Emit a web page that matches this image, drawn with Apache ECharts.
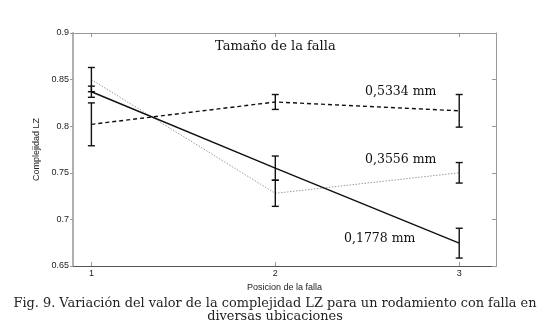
<!DOCTYPE html>
<html>
<head>
<meta charset="utf-8">
<script src="https://cdn.jsdelivr.net/npm/echarts@6/dist/echarts.min.js"></script>
<style>
    html, body { margin: 0; padding: 0; background: #fff; }
    #chart { width: 550px; height: 333px; }
</style>
</head>
<body>
<div id="chart"></div>
<script>
    // posiciones de la falla
    var positions = [1, 2, 3];
    var yTicks = [0.65, 0.7, 0.75, 0.8, 0.85, 0.9];

    // 0,5334 mm (discontinua)
    var lz5334 = [0.802, 0.826, 0.8165];
    var err5334 = [0.023, 0.008, 0.0175];
    // 0,3556 mm (punteada)
    var lz3556 = [0.850, 0.728, 0.750];
    var err3556 = [0.013, 0.014, 0.011];
    // 0,1778 mm (continua)
    var lz1778 = [0.837, 0.755, 0.6745];
    var err1778 = [0.006, 0.013, 0.016];

    function pairs(vals) {
        return positions.map(function (p, i) { return [p, vals[i]]; });
    }
    function errData(vals, errs) {
        return positions.map(function (p, i) { return [p, vals[i] - errs[i], vals[i] + errs[i]]; });
    }

    function renderErr(params, api) {
        var lo = api.coord([api.value(0), api.value(1)]);
        var hi = api.coord([api.value(0), api.value(2)]);
        var w = 3.5;
        var st = { stroke: '#111', lineWidth: 1.4 };
        return {
            type: 'group',
            children: [
                { type: 'line', shape: { x1: lo[0], y1: lo[1], x2: hi[0], y2: hi[1] }, style: st },
                { type: 'line', shape: { x1: lo[0] - w, y1: lo[1], x2: lo[0] + w, y2: lo[1] }, style: st },
                { type: 'line', shape: { x1: hi[0] - w, y1: hi[1], x2: hi[0] + w, y2: hi[1] }, style: st }
            ]
        };
    }

    var chart = echarts.init(document.getElementById('chart'));
    var labelFont = { color: '#222', fontSize: 9, fontFamily: 'Liberation Sans' };
    var noteStyle = { fill: '#111', fontSize: 12.5, fontFamily: 'DejaVu Serif' };
    var capStyle = { fill: '#222', fontSize: 12.9, fontFamily: 'DejaVu Serif', align: 'center', verticalAlign: 'middle' };

    var option = {
        animation: false,
        grid: { left: 73, top: 33, right: 54, bottom: 67, show: false },
        xAxis: [
            {
                type: 'value', min: 0.9, max: 3.2,
                name: 'Posicion de la falla', nameLocation: 'middle', nameGap: 11,
                nameTextStyle: labelFont,
                axisLine: { lineStyle: { color: '#555', width: 1 } },
                axisTick: { inside: true, length: 4, customValues: positions, lineStyle: { color: '#999' } },
                axisLabel: Object.assign({ customValues: positions, margin: 3 }, labelFont),
                splitLine: { show: false }
            },
            {
                type: 'value', min: 0.9, max: 3.2, position: 'top',
                axisLine: { lineStyle: { color: '#999', width: 1 } },
                axisTick: { inside: true, length: 4, customValues: positions, lineStyle: { color: '#999' } },
                axisLabel: { show: false },
                splitLine: { show: false }
            }
        ],
        yAxis: [
            {
                type: 'value', min: 0.65, max: 0.9, interval: 0.05,
                name: 'Complejidad LZ', nameLocation: 'middle', nameGap: 27,
                nameTextStyle: labelFont,
                axisLine: { lineStyle: { color: '#b0b0b0', width: 2 } },
                axisTick: { inside: false, length: 3, customValues: yTicks, lineStyle: { color: '#999' } },
                axisLabel: Object.assign({ customValues: yTicks, margin: 4, formatter: function (v) { return String(+v.toFixed(2)); } }, labelFont),
                splitLine: { show: false }
            },
            {
                type: 'value', min: 0.65, max: 0.9, interval: 0.05, position: 'right',
                axisLine: { lineStyle: { color: '#999', width: 1 } },
                axisTick: { inside: true, length: 4, customValues: yTicks, lineStyle: { color: '#999' } },
                axisLabel: { show: false },
                splitLine: { show: false }
            }
        ],
        series: [
            {
                name: '0,5334 mm', type: 'line', data: pairs(lz5334), symbol: 'none',
                lineStyle: { color: '#111', width: 1.4, type: [4, 3] }, z: 3
            },
            {
                name: '0,3556 mm', type: 'line', data: pairs(lz3556), symbol: 'none',
                lineStyle: { color: '#9a9a9a', width: 1, type: [1.5, 1.5] }, z: 2
            },
            {
                name: '0,1778 mm', type: 'line', data: pairs(lz1778), symbol: 'none',
                lineStyle: { color: '#111', width: 1.5 }, z: 4
            },
            { type: 'custom', data: errData(lz5334, err5334), renderItem: renderErr, z: 5 },
            { type: 'custom', data: errData(lz3556, err3556), renderItem: renderErr, z: 5 },
            { type: 'custom', data: errData(lz1778, err1778), renderItem: renderErr, z: 5 }
        ],
        graphic: [
            { type: 'text', left: 215, top: 40, style: Object.assign({ text: 'Tamaño de la falla' }, noteStyle, { fontSize: 13 }) },
            { type: 'text', left: 365, top: 85, style: Object.assign({ text: '0,5334 mm' }, noteStyle) },
            { type: 'text', left: 365, top: 153, style: Object.assign({ text: '0,3556 mm' }, noteStyle) },
            { type: 'text', left: 344, top: 232, style: Object.assign({ text: '0,1778 mm' }, noteStyle) },
            { type: 'text', x: 275, y: 304, style: Object.assign({ text: 'Fig. 9. Variación del valor de la complejidad LZ para un rodamiento con falla en' }, capStyle) },
            { type: 'text', x: 275, y: 317, style: Object.assign({ text: 'diversas ubicaciones' }, capStyle) }
        ]
    };
    chart.setOption(option);
</script>
</body>
</html>
